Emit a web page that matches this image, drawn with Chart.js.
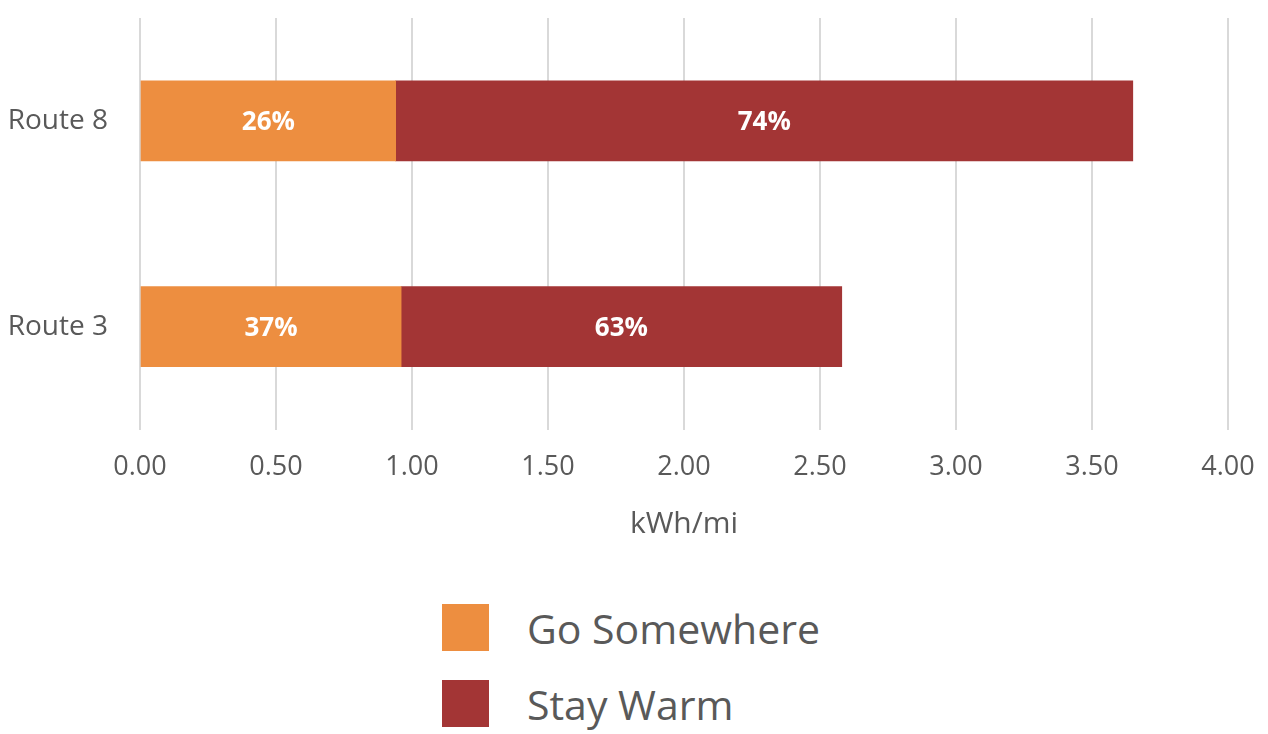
<!DOCTYPE html>
<html>
<head>
<meta charset="utf-8">
<script src="https://cdn.jsdelivr.net/npm/chart.js@4.4.1/dist/chart.umd.min.js"></script>
<style>
  body { margin: 0; background: #fff; font-family: "Open Sans", sans-serif; }
  #wrap { position: relative; width: 1268px; height: 734px; }
  #box { position: absolute; left: 0; top: 0; width: 1268px; height: 544px; }
  #legend { position: absolute; left: 442px; top: 604px; }
  .item { display: flex; align-items: center; height: 47px; margin-bottom: 29px; }
  .swatch { width: 47px; height: 47px; margin-right: 38px; }
  .item span { font-size: 41px; color: #595959; }
</style>
</head>
<body>
<div id="wrap">
  <div id="box"><canvas id="energy-chart"></canvas></div>
  <div id="legend"></div>
</div>
<script>
// data (kWh/mi)
const routes = ['Route 8', 'Route 3'];
const goSomewhere = [0.94, 0.96];
const stayWarm = [2.71, 1.62];
const seriesNames = ['Go Somewhere', 'Stay Warm'];
const seriesColors = ['#ED8E40', '#A33535'];
const xMin = 0, xMax = 4, xStep = 0.5;

const textGray = '#595959';

// writes the share of each part in the middle of its bar
const percentLabels = {
  id: 'percentLabels',
  afterDatasetsDraw(chart) {
    const ctx = chart.ctx;
    ctx.save();
    ctx.fillStyle = '#ffffff';
    ctx.font = 'bold 26px "Open Sans"';
    ctx.textAlign = 'center';
    ctx.textBaseline = 'middle';
    chart.data.datasets.forEach((ds, i) => {
      chart.getDatasetMeta(i).data.forEach((bar, j) => {
        const total = chart.data.datasets.reduce((s, d) => s + d.data[j], 0);
        const pct = Math.round(ds.data[j] / total * 100) + '%';
        const c = bar.getCenterPoint();
        ctx.fillText(pct, c.x, c.y + 2);
      });
    });
    ctx.restore();
  }
};

const datasets = [goSomewhere, stayWarm].map((vals, i) => ({
  label: seriesNames[i],
  data: vals,
  backgroundColor: seriesColors[i],
  borderWidth: 0,
  barThickness: 80
}));

const chart = new Chart(document.getElementById('energy-chart'), {
  type: 'bar',
  data: { labels: routes, datasets: datasets },
  options: {
    indexAxis: 'y',
    responsive: true,
    maintainAspectRatio: false,
    animation: false,
    layout: { padding: { top: 18, right: 40, bottom: 0, left: 0 } },
    plugins: {
      legend: { display: false },
      tooltip: { enabled: false }
    },
    scales: {
      x: {
        stacked: true,
        min: xMin,
        max: xMax,
        afterFit(scale) { scale.paddingLeft = 0; scale.paddingRight = 0; },
        ticks: {
          stepSize: xStep,
          padding: 22,
          color: textGray,
          font: { family: 'Open Sans', size: 27 },
          callback: v => Number(v).toFixed(2)
        },
        grid: { color: '#d9d9d9', lineWidth: 2, drawTicks: false },
        border: { display: false },
        title: {
          display: true,
          text: 'kWh/mi',
          color: textGray,
          font: { family: 'Open Sans', size: 30 },
          padding: { top: 0, bottom: 2 }
        }
      },
      y: {
        stacked: true,
        afterFit(scale) {
          scale.width = 140;
          scale.paddingTop = 0;
          scale.paddingBottom = 0;
        },
        ticks: {
          padding: 24,
          color: textGray,
          font: { family: 'Open Sans', size: 28 }
        },
        grid: { display: false },
        border: { display: false }
      }
    }
  },
  plugins: [percentLabels]
});

// legend stacked vertically under the chart, built from the datasets
const legend = document.getElementById('legend');
chart.data.datasets.forEach(ds => {
  const item = document.createElement('div');
  item.className = 'item';
  const sw = document.createElement('div');
  sw.className = 'swatch';
  sw.style.background = ds.backgroundColor;
  const label = document.createElement('span');
  label.textContent = ds.label;
  item.appendChild(sw);
  item.appendChild(label);
  legend.appendChild(item);
});
</script>
</body>
</html>
